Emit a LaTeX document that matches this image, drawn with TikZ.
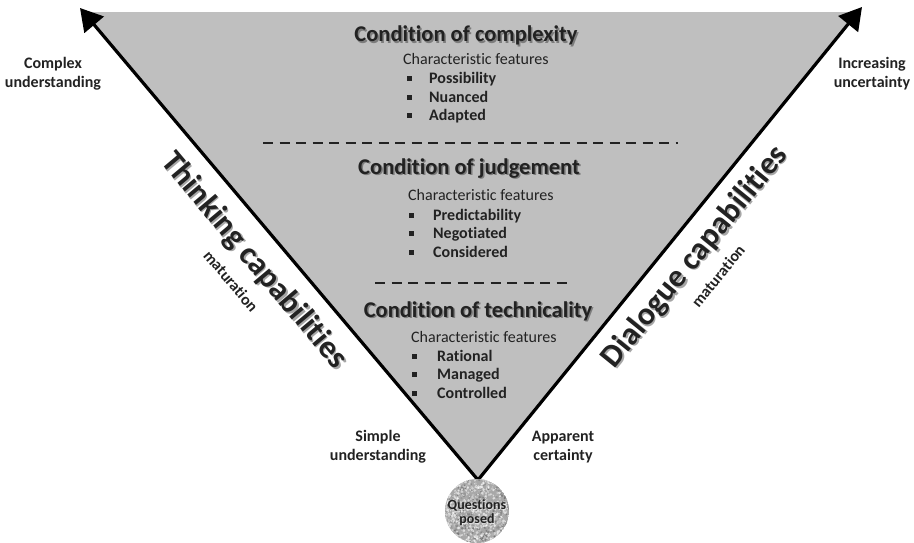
\documentclass[tikz,border=0pt]{standalone}
\usepackage{fontspec}
\setmainfont{Carlito}[Ligatures={NoCommon,NoContextual}]
\usetikzlibrary{arrows.meta,calc}
\definecolor{triGray}{RGB}{191,191,191}
\definecolor{inkDark}{RGB}{34,34,34}
\definecolor{stoneGray}{RGB}{168,168,168}
\tikzset{
  axisline/.style={line width=3.2pt, draw=black, line cap=round,
    -{Triangle[length=22pt,width=25pt]}},
  divider/.style={line width=2pt, draw=inkDark, dash pattern=on 10pt off 6.5pt},
  heading/.style={font=\bfseries\fontsize{22.5}{26}\selectfont, text=inkDark,
    inner sep=0pt, anchor=base},
  headshadow/.style={heading, text=black, opacity=0.35},
  feat/.style={font=\fontsize{16}{19}\selectfont, text=inkDark, inner sep=0pt,
    anchor=base west},
  itemtext/.style={font=\bfseries\fontsize{16}{19}\selectfont, text=inkDark,
    inner sep=0pt, anchor=base west},
  bulletbox/.style={fill=inkDark, minimum size=5pt, inner sep=0pt},
  sidelabel/.style={font=\bfseries\fontsize{16}{19}\selectfont, text=inkDark,
    align=center, inner sep=0pt},
  capability/.style={font=\bfseries\fontsize{32}{36}\selectfont, text=inkDark,
    inner sep=0pt},
  capshadow/.style={capability, text=black, opacity=0.35},
  maturation/.style={font=\bfseries\fontsize{16}{19}\selectfont, text=inkDark,
    inner sep=0pt},
  posed/.style={font=\bfseries\fontsize{14}{14.5}\selectfont, text=inkDark,
    align=center, inner sep=0pt},
}
\begin{document}
\begin{tikzpicture}[x=1pt,y=-1pt]
\useasboundingbox (0,0) rectangle (914,543);

% apex and the two arrow tips
\coordinate (apex) at (478,480);
\coordinate (ltip) at (80,8);
\coordinate (rtip) at (862,7);
\coordinate (ltop) at ($(apex)!{468/472}!(ltip)$);
\coordinate (rtop) at ($(apex)!{468/473}!(rtip)$);

% grey inverted triangle
\fill[triGray] (apex) -- (ltop) -- (rtop) -- cycle;

% dashed separators between the three conditions
\coordinate (d1a) at (263,143);
\coordinate (d1b) at (678,143);
\coordinate (d2a) at (375,283);
\coordinate (d2b) at (571,283);
\draw[divider] (d1a) -- (d1b);
\draw[divider] (d2a) -- (d2b);

% condition of complexity
\node[headshadow] (h1s) at (467.5,43.5) {Condition of complexity};
\node[heading] (h1) at (466,42) {Condition of complexity};
\node[feat] (f1) at (403,65) {Characteristic features};
\node[bulletbox] (b11) at (409,79) {};
\node[bulletbox] (b12) at (409,97.5) {};
\node[bulletbox] (b13) at (409,116) {};
\node[itemtext] (i11) at (429,84) {Possibility};
\node[itemtext] (i12) at (429,102.5) {Nuanced};
\node[itemtext] (i13) at (429,121) {Adapted};

% condition of judgement
\node[headshadow] (h2s) at (470.5,175.5) {Condition of judgement};
\node[heading] (h2) at (469,174) {Condition of judgement};
\node[feat] (f2) at (408,200) {Characteristic features};
\node[bulletbox] (b21) at (411,215) {};
\node[bulletbox] (b22) at (411,233.5) {};
\node[bulletbox] (b23) at (411,252) {};
\node[itemtext] (i21) at (433,220) {Predictability};
\node[itemtext] (i22) at (433,238.5) {Negotiated};
\node[itemtext] (i23) at (433,257) {Considered};

% condition of technicality
\node[headshadow] (h3s) at (479.5,318.5) {Condition of technicality};
\node[heading] (h3) at (478,317) {Condition of technicality};
\node[feat] (f3) at (411,342) {Characteristic features};
\node[bulletbox] (b31) at (414,356) {};
\node[bulletbox] (b32) at (414,374.5) {};
\node[bulletbox] (b33) at (414,393) {};
\node[itemtext] (i31) at (437,361) {Rational};
\node[itemtext] (i32) at (437,379.5) {Managed};
\node[itemtext] (i33) at (437,398) {Controlled};

% the two arrows along the sides
\draw[axisline] (apex) -- (ltip);
\draw[axisline] (apex) -- (rtip);

% corner labels
\node[sidelabel] (complex) at (53,73.5) {Complex\\understanding};
\node[sidelabel] (uncert) at (872,74) {Increasing\\uncertainty};
\node[sidelabel] (simple) at (378,447) {Simple\\understanding};
\node[sidelabel] (certain) at (563,447.5) {Apparent\\certainty};

% capability labels along the sides
\node[capshadow, rotate=-49.9] (thinks) at (255.5,262.5) {Thinking capabilities};
\node[capability, rotate=-49.9] (think) at (254,261) {Thinking capabilities};
\node[maturation, rotate=-49.9] (matl) at (231,281) {maturation};
\node[capshadow, rotate=50.9] (dials) at (696.5,258.5) {Dialogue capabilities};
\node[capability, rotate=50.9] (dial) at (695,257) {Dialogue capabilities};
\node[maturation, rotate=50.9] (matr) at (718,276) {maturation};

% speckled stone at the apex
\coordinate (qc) at (477,511);
\begin{scope}
  \clip (qc) circle (32);
  \fill[stoneGray] (qc) circle (32);
  \pgfmathsetseed{4271}
  \foreach \k in {1,...,1100}{
    \pgfmathsetmacro\px{477+33*rand}
    \pgfmathsetmacro\py{511+33*rand}
    \pgfmathsetmacro\sh{int(10+45*rnd)}
    \pgfmathsetmacro\rr{0.5+1.1*rnd}
    \fill[black!\sh] (\px,\py) circle (\rr);
  }
  \pgfmathsetseed{913}
  \foreach \k in {1,...,350}{
    \pgfmathsetmacro\px{477+33*rand}
    \pgfmathsetmacro\py{511+33*rand}
    \pgfmathsetmacro\rr{0.5+1.0*rnd}
    \fill[white, opacity=0.5] (\px,\py) circle (\rr);
  }
\end{scope}
\node[posed, text=white, opacity=0.55] (qs) at (477.8,513.5) {Questions\\posed};
\node[posed] (q) at (477,512.7) {Questions\\posed};
\end{tikzpicture}
\end{document}
